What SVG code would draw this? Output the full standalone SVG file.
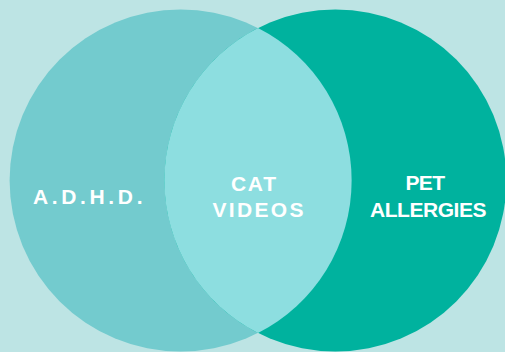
<svg xmlns="http://www.w3.org/2000/svg" width="505" height="352" viewBox="0 0 505 352">
<style>
.lbl{font-family:"Liberation Sans",Arial,sans-serif;font-weight:bold;font-size:21px;fill:#ffffff}
</style>
<rect width="505" height="352" fill="#BDE4E4"/>
<g id="adhd">
<circle cx="180.6" cy="180.5" r="171" fill="#73CBCE"/>
</g>
<g id="pet-allergies">
<circle cx="335.4" cy="180.5" r="171" fill="#00B29E"/>
</g>
<g id="cat-videos">
<path d="M258,28 A171,171 0 0,1 258,333 A171,171 0 0,1 258,28 Z" fill="#8DDEE0"/>
</g>
<g id="connectors"/>
<g id="labels">
<text class="lbl" x="33" y="203.5" textLength="109.5" lengthAdjust="spacing">A.D.H.D.</text>
<text class="lbl" x="231" y="190.5" textLength="45" lengthAdjust="spacing">CAT</text>
<text class="lbl" x="212.5" y="217" textLength="91" lengthAdjust="spacing">VIDEOS</text>
<text class="lbl" x="405.5" y="189.5" textLength="39.5" lengthAdjust="spacing">PET</text>
<text class="lbl" x="370" y="217" textLength="116.5" lengthAdjust="spacing">ALLERGIES</text>
</g>
</svg>
